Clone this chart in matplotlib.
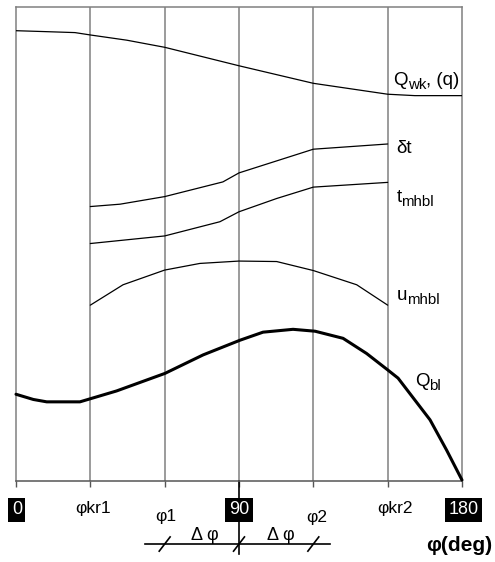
import numpy as np
import matplotlib
matplotlib.use("Agg")
import matplotlib.pyplot as plt

plt.rcParams["font.family"] = ["Liberation Sans", "DejaVu Sans"]

# angle grid (deg) and the named positions on it
GRID = [0, 30, 60, 90, 120, 150, 180]

# Q_wk, (q)
phi_qwk = [0, 12.2, 23.8, 30, 44.7, 60, 90, 120, 150, 161, 180]
qwk = [95.0, 94.8, 94.6, 94.1, 93.0, 91.5, 87.6, 83.9, 81.6, 81.3, 81.3]

# delta t
phi_dt = [30, 42, 60, 83.5, 90, 120, 150]
dt = [57.9, 58.4, 60.0, 63.1, 65.0, 70.0, 71.1]

# t_mhbl
phi_t = [30, 60, 82.3, 90, 105.2, 120, 150]
t_mhbl = [50.1, 51.7, 54.7, 56.8, 59.6, 62.0, 63.0]

# u_mhbl
phi_u = [30, 43.2, 60, 74.2, 90, 105.2, 120, 137.5, 150]
u_mhbl = [37.1, 41.4, 44.5, 45.9, 46.4, 46.3, 44.4, 41.4, 37.1]

# Q_bl
phi_qbl = [0, 7.0, 12.4, 25.8, 30.3, 40.6, 60.1, 75.5, 90.4, 99.7, 111.8,
           120.7, 132, 141.5, 150.1, 154.2, 167.1, 173.8, 180]
qbl = [18.3, 17.2, 16.7, 16.7, 17.4, 19.0, 22.7, 26.6, 29.7, 31.4, 32.0,
       31.6, 30.1, 26.9, 23.4, 21.7, 12.9, 6.5, 0.2]

GRAY = "#808080"

fig = plt.figure(figsize=(4.95, 5.62), dpi=100)
ax = fig.add_axes([16 / 495, 81 / 562, 446 / 495, 474 / 562])
ax.set_xlim(0, 180)
ax.set_ylim(0, 100)

for s in ax.spines.values():
    s.set_color(GRAY)
    s.set_linewidth(1.1)
ax.spines["bottom"].set_color("#555555")
for g in GRID[1:-1]:
    ax.axvline(g, color=GRAY, lw=1.1, zorder=1)

ax.set_xticks(GRID)
ax.set_xticklabels([])
ax.set_yticks([])
ax.tick_params(axis="x", direction="out", length=4, width=1, color="#555555")

# curves
kw = dict(color="black", zorder=3, solid_joinstyle="round", solid_capstyle="round")
ax.plot(phi_qwk, qwk, lw=0.9, **kw)
ax.plot(phi_dt, dt, lw=0.9, **kw)
ax.plot(phi_t, t_mhbl, lw=0.9, **kw)
ax.plot(phi_u, u_mhbl, lw=0.9, **kw)
ax.plot(phi_qbl, qbl, lw=2.2, clip_on=False, **kw)


def label(x, y, main, sub="", tail="", size=13.5):
    # symbol, then a lowered smaller subscript, then the rest on the baseline
    W, H = fig.bbox.width, fig.bbox.height
    base = ax.transData.transform((x, y))
    t = fig.text(base[0] / W, base[1] / H, main, fontsize=size, va="baseline")
    fig.canvas.draw()
    x1 = t.get_window_extent().x1
    if sub:
        t = fig.text(x1 / W, (base[1] - 4) / H, sub, fontsize=size * 0.8,
                     va="baseline")
        fig.canvas.draw()
        x1 = t.get_window_extent().x1
    if tail:
        fig.text(x1 / W, base[1] / H, tail, fontsize=size, va="baseline")


label(152.3, 83.5, "Q", "wk", ", (q)")
label(153.5, 69.2, "δt")
label(153.5, 58.9, "t", "mhbl")
label(153.5, 38.2, "u", "mhbl")
label(161, 20.0, "Q", "bl")

# axis annotations below the frame
ax.plot([90, 90], [0, -15.4], color="black", lw=1.2, clip_on=False)
box = dict(facecolor="black", edgecolor="none", pad=2.5)
for x, s in [(0.4, "0"), (90, "90"), (180.5, "180")]:
    ax.text(x, -6.1, s, color="white", fontsize=13, ha="center", va="center",
            bbox=box, zorder=4)
ax.text(31, -5.7, "φkr1", fontsize=12.5, ha="center", va="center")
ax.text(60.5, -7.4, "φ1", fontsize=12.5, ha="center", va="center")
ax.text(121.5, -7.8, "φ2", fontsize=12.5, ha="center", va="center")
ax.text(153, -5.9, "φkr2", fontsize=12.5, ha="center", va="center")
ax.text(192.3, -13.7, "φ(deg)", fontsize=15, fontweight="bold", ha="right",
        va="center")

# delta-phi dimension line
ax.plot([52.1, 126.7], [-13.3, -13.3], color="black", lw=1.2, clip_on=False)
for x in (60, 90, 120):
    ax.plot([x - 2.2, x + 2.2], [-14.8, -11.8], color="black", lw=1.2,
            clip_on=False)
ax.text(76.3, -11.6, "Δ φ", fontsize=13, ha="center", va="center")
ax.text(107, -11.6, "Δ φ", fontsize=13, ha="center", va="center")

fig.savefig("out.png", dpi=100)
